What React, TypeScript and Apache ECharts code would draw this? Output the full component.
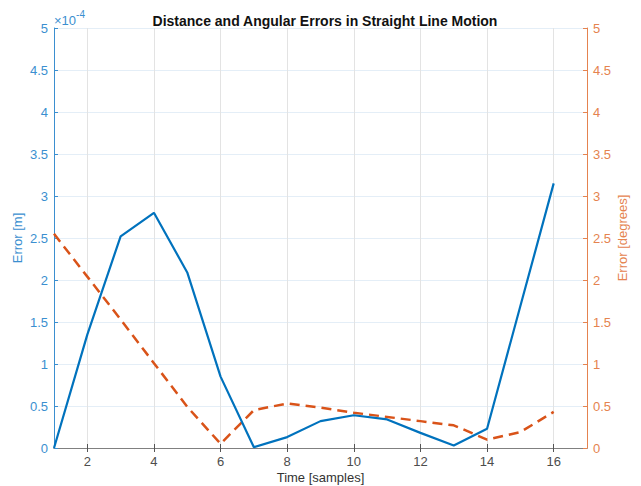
import React, { useEffect, useRef } from "react";
import * as echarts from "echarts";

const samples = [1, 2, 3, 4, 5, 6, 7, 8, 9, 10, 11, 12, 13, 14, 15, 16];
// distance error in units of 1e-4 m
const distanceErrorE4 = [0, 1.35, 2.52, 2.8, 2.09, 0.85, 0.01, 0.13, 0.32, 0.39, 0.34, 0.18, 0.03, 0.23, 1.69, 3.15];
// angular error in degrees
const angularErrorDeg = [2.55, 2.04, 1.53, 1.01, 0.49, 0.05, 0.45, 0.53, 0.48, 0.42, 0.37, 0.32, 0.27, 0.1, 0.19, 0.43];
const xTicks = [2, 4, 6, 8, 10, 12, 14, 16];

const BLUE = "#0072BD";
const ORANGE = "#D95319";
const BLUE_AX = "#3b8fd0";
const ORANGE_AX = "#e5834f";
const FONT = "Liberation Sans, Arial, sans-serif";

export default function App() {
  const ref = useRef<HTMLDivElement>(null);
  useEffect(() => {
    if (!ref.current) return;
    const chart = echarts.init(ref.current, null, { renderer: "svg" });
    const fmt = (v: number) => String(Math.round(v * 10) / 10);
    chart.setOption({
      animation: false,
      backgroundColor: "#ffffff",
      textStyle: { fontFamily: FONT },
      title: {
        text: "Distance and Angular Errors in Straight Line Motion",
        left: 320,
        textAlign: "center",
        top: 9,
        textStyle: { fontSize: 14, fontWeight: "bold", color: "#111", fontFamily: FONT },
      },
      grid: { left: 54, top: 28, right: 54, bottom: 38, show: false, containLabel: false, outerBoundsMode: "none" },
      xAxis: [
        {
          type: "value",
          min: 1,
          max: 17,
          position: "bottom",
          name: "Time [samples]",
          nameLocation: "middle",
          nameGap: 23,
          nameMoveOverlap: false,
          nameTextStyle: { fontSize: 13, color: "#333", fontFamily: FONT },
          axisLine: { show: true, lineStyle: { color: "#808080", width: 1 } },
          axisTick: { show: true, inside: true, length: 4, customValues: xTicks, lineStyle: { color: "#555" } },
          axisLabel: { customValues: xTicks, fontSize: 13, color: "#4d4d4d", margin: 7, fontFamily: FONT },
          splitLine: { show: true, lineStyle: { color: "#e3e3e3", width: 1 } },
        },
        {
          type: "value",
          min: 1,
          max: 17,
          position: "top",
          axisLine: { show: true, lineStyle: { color: "#808080", width: 1 } },
          axisTick: { show: true, inside: true, length: 4, customValues: xTicks, lineStyle: { color: "#555" } },
          axisLabel: { show: false },
          splitLine: { show: false },
        },
      ],
      yAxis: [
        {
          type: "value",
          min: 0,
          max: 5,
          interval: 0.5,
          position: "left",
          name: "Error [m]",
          nameLocation: "middle",
          nameGap: 30,
          nameMoveOverlap: false,
          nameTextStyle: { fontSize: 13, color: BLUE_AX, fontFamily: FONT },
          axisLine: { show: true, lineStyle: { color: BLUE_AX, width: 1 } },
          axisTick: { show: true, inside: true, length: 4, lineStyle: { color: BLUE_AX } },
          axisLabel: { fontSize: 13, color: BLUE_AX, margin: 6, formatter: fmt, fontFamily: FONT },
          splitLine: { show: true, lineStyle: { color: "#e4eef7", width: 1 } },
        },
        {
          type: "value",
          min: 0,
          max: 5,
          interval: 0.5,
          position: "right",
          name: "Error [degrees]",
          nameLocation: "middle",
          nameGap: 29,
          nameMoveOverlap: false,
          nameTextStyle: { fontSize: 13, color: ORANGE_AX, fontFamily: FONT },
          axisLine: { show: true, lineStyle: { color: ORANGE_AX, width: 1 } },
          axisTick: { show: true, inside: true, length: 4, lineStyle: { color: ORANGE_AX } },
          axisLabel: { fontSize: 13, color: ORANGE_AX, margin: 6, formatter: fmt, fontFamily: FONT },
          splitLine: { show: false },
        },
      ],
      graphic: [
        {
          type: "text",
          left: 54,
          top: 9,
          style: {
            text: "{a|×10}{b|-4}",
            rich: {
              a: { fontSize: 13, fill: BLUE_AX, fontFamily: FONT, verticalAlign: "bottom" },
              b: { fontSize: 10, fill: BLUE_AX, fontFamily: FONT, verticalAlign: "top", padding: [0, 0, 8, 0] },
            },
          },
        },
      ],
      series: [
        {
          type: "line",
          xAxisIndex: 0,
          yAxisIndex: 0,
          showSymbol: false,
          data: samples.map((s, i) => [s, distanceErrorE4[i]]),
          lineStyle: { color: BLUE, width: 2.2 },
          itemStyle: { color: BLUE },
          z: 3,
        },
        {
          type: "line",
          xAxisIndex: 0,
          yAxisIndex: 1,
          showSymbol: false,
          data: samples.map((s, i) => [s, angularErrorDeg[i]]),
          lineStyle: { color: ORANGE, width: 2.5, type: [10, 6] },
          itemStyle: { color: ORANGE },
          z: 2,
        },
      ],
    });
    return () => chart.dispose();
  }, []);
  return <div ref={ref} style={{ position: "fixed", left: 0, top: 0, width: 641, height: 486 }} />;
}
